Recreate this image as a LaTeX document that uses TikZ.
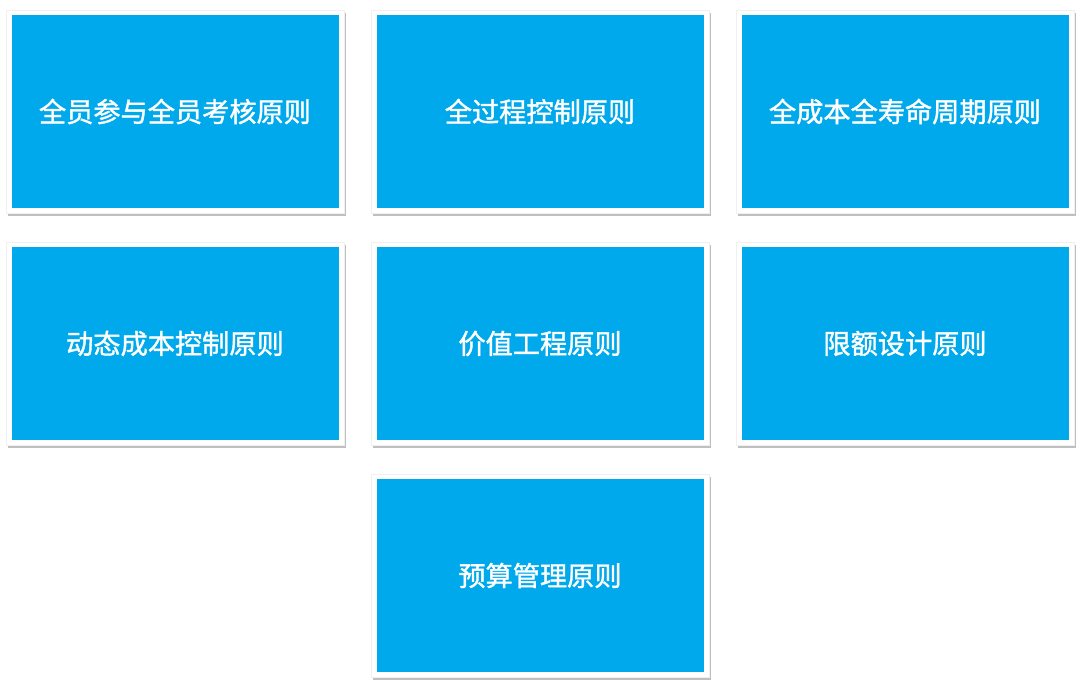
\documentclass[tikz,border=0pt]{standalone}
\usepackage{fontspec}
\newfontfamily\cjk{Noto Sans CJK SC}[BoldFont=Noto Sans CJK SC, BoldFeatures={FakeBold=1.4}]
\usetikzlibrary{shadows}
\definecolor{boxblue}{HTML}{00A9EC}
\begin{document}
\begin{tikzpicture}[x=1pt,y=-1pt,
  frame/.style={fill=white, draw=black!6, line width=0.5pt, minimum width=338pt, minimum height=203pt, inner sep=0pt,
    drop shadow={shadow xshift=1.5pt, shadow yshift=-3pt, opacity=0.45, fill=black!55}},
  card/.style={fill=boxblue, minimum width=327pt, minimum height=193pt, inner sep=0pt, text=white,
    font=\cjk\bfseries\fontsize{27.2}{31}\selectfont}]
\useasboundingbox (0,0) rectangle (1080,687);
\fill[white] (0,0) rectangle (1080,687);
\foreach \nm/\x/\y in {f1/175/111.5, f2/540/111.5, f3/905/111.5, f4/175/343.5, f5/540/343.5, f6/905/343.5, f7/540/575.5}
  \node[frame] (\nm) at (\x,\y) {};
\node[card] (b1) at (f1) {全员参与全员考核原则};
\node[card] (b2) at (f2) {全过程控制原则};
\node[card] (b3) at (f3) {全成本全寿命周期原则};
\node[card] (b4) at (f4) {动态成本控制原则};
\node[card] (b5) at (f5) {价值工程原则};
\node[card] (b6) at (f6) {限额设计原则};
\node[card] (b7) at (f7) {预算管理原则};
\end{tikzpicture}
\end{document}
